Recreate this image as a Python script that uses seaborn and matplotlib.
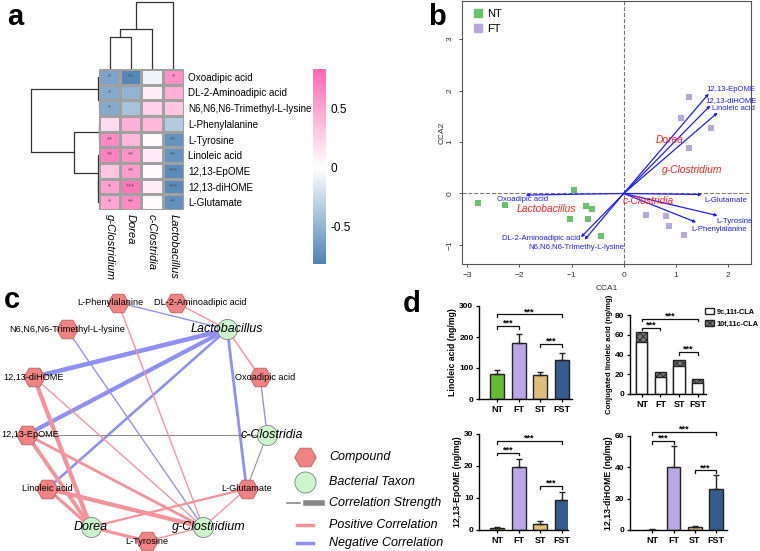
import numpy as np
import pandas as pd
import seaborn as sns
import matplotlib.pyplot as plt
from matplotlib.colors import LinearSegmentedColormap
from matplotlib.patches import Patch
from matplotlib.lines import Line2D

plt.rcParams['font.family'] = ['Liberation Sans', 'DejaVu Sans']
plt.rcParams['hatch.linewidth'] = 0.6

# ---------------- data: panel a (correlation heatmap) ----------------
taxa = ['g-Clostridium', 'Dorea', 'c-Clostridia', 'Lactobacillus']
compounds = ['Oxoadipic acid', 'DL-2-Aminoadipic acid', 'N6,N6,N6-Trimethyl-L-lysine',
             'L-Phenylalanine', 'L-Tyrosine', 'Linoleic acid', '12,13-EpOME',
             '12,13-diHOME', 'L-Glutamate']
corr = [
    [-0.60, -0.78, -0.08, 0.62],
    [-0.56, -0.50, 0.10, 0.45],
    [-0.56, -0.40, 0.25, 0.32],
    [0.20, 0.45, 0.40, -0.35],
    [0.65, 0.40, 0.02, -0.70],
    [0.70, 0.60, 0.12, -0.70],
    [0.32, 0.55, 0.03, -0.76],
    [0.52, 0.75, 0.10, -0.76],
    [0.50, 0.65, 0.03, -0.72],
]
stars = [
    ['*', '**', '', '*'],
    ['*', '', '', ''],
    ['*', '', '', ''],
    ['', '', '', ''],
    ['**', '', '', '**'],
    ['**', '**', '', '**'],
    ['', '**', '', '***'],
    ['*', '***', '', '***'],
    ['*', '**', '', '**'],
]
# linkage: (left, right, height), new nodes numbered after the leaves
col_merges = [(0, 1, 0.48), (4, 2, 0.60), (5, 3, 1.0)]
row_merges = [(1, 2, 0.0), (0, 9, 0.02), (3, 4, 0.0), (6, 7, 0.005),
              (12, 8, 0.01), (5, 13, 0.015), (11, 14, 0.37), (10, 15, 1.0)]

# ---------------- data: panel b (CCA) ----------------
nt_x = [-2.80, -2.27, -0.95, -0.73, -0.60, -1.03, -0.68, -0.44]
nt_y = [-0.18, -0.22, 0.07, -0.25, -0.30, -0.50, -0.50, -0.82]
ft_x = [1.25, 1.10, 1.68, 1.26, 0.43, 0.81, 0.87, 1.15]
ft_y = [1.87, 1.47, 1.28, 0.89, -0.42, -0.43, -0.63, -0.80]
env_names = ['12,13-EpOME', '12,13-diHOME', 'Linoleic acid', 'L-Glutamate', 'L-Tyrosine',
             'L-Phenylalanine', 'Oxoadipic acid', 'DL-2-Aminoadipic acid',
             'N6,N6,N6-Trimethy-L-lysine']
env_x = [1.63, 1.66, 1.80, 1.50, 1.80, 1.39, -1.88, -0.82, -0.75]
env_y = [1.94, 1.71, 1.57, -0.02, -0.43, -0.56, -0.03, -0.85, -0.90]
env_lx = [1.58, 1.57, 1.70, 1.55, 1.78, 1.30, -1.93, -0.84, -0.90]
env_ly = [2.02, 1.80, 1.65, -0.13, -0.54, -0.70, -0.12, -0.88, -1.04]
env_ha = ['left', 'left', 'left', 'left', 'left', 'left', 'center', 'right', 'center']
sp_names = ['Dorea', 'g-Clostridium', 'c-Clostridia', 'Lactobacillus']
sp_x = [0.88, 1.32, 0.48, -1.48]
sp_y = [1.03, 0.45, -0.14, -0.30]

# ---------------- data: panel c (network) ----------------
net_nodes = ['L-Tyrosine', 'g-Clostridium', 'L-Glutamate', 'c-Clostridia', 'Oxoadipic acid',
             'Lactobacillus', 'DL-2-Aminoadipic acid', 'L-Phenylalanine',
             'N6,N6,N6-Trimethyl-L-lysine', '12,13-diHOME', '12,13-EpOME',
             'Linoleic acid', 'Dorea']
net_taxa = {'g-Clostridium', 'c-Clostridia', 'Lactobacillus', 'Dorea'}
# (node, node, signed strength); 0 = grey link
net_edges = [
    ('Lactobacillus', '12,13-diHOME', -1.0),
    ('Lactobacillus', '12,13-EpOME', -0.9),
    ('Lactobacillus', 'Linoleic acid', -0.45),
    ('Lactobacillus', 'L-Glutamate', -0.5),
    ('Lactobacillus', 'L-Phenylalanine', -0.1),
    ('Lactobacillus', 'DL-2-Aminoadipic acid', 0.1),
    ('Lactobacillus', 'Oxoadipic acid', 0.15),
    ('Oxoadipic acid', 'c-Clostridia', -0.1),
    ('c-Clostridia', 'L-Glutamate', 0.0),
    ('12,13-EpOME', 'c-Clostridia', 0.0),
    ('N6,N6,N6-Trimethyl-L-lysine', 'g-Clostridium', -0.1),
    ('L-Phenylalanine', 'g-Clostridium', 0.1),
    ('12,13-diHOME', 'Dorea', 0.9),
    ('12,13-diHOME', 'g-Clostridium', 0.1),
    ('12,13-EpOME', 'Dorea', 0.8),
    ('12,13-EpOME', 'g-Clostridium', 0.5),
    ('Linoleic acid', 'Dorea', 0.6),
    ('Linoleic acid', 'g-Clostridium', 0.9),
    ('Dorea', 'L-Tyrosine', 0.6),
    ('Dorea', 'L-Glutamate', 0.35),
    ('L-Tyrosine', 'g-Clostridium', 0.1),
    ('L-Glutamate', 'g-Clostridium', 0.1),
]

# ---------------- data: panel d (bar charts) ----------------
groups = ['NT', 'FT', 'ST', 'FST']
linoleic = [82, 180, 78, 126]
linoleic_sd = [13, 30, 8, 23]
cla_9c11t = [53, 17, 28, 11]
cla_total = [63, 22.5, 34.5, 15.5]
epome = [0.7, 19.8, 2.0, 9.3]
epome_sd = [0.3, 2.4, 0.7, 2.5]
dihome = [0.3, 40.0, 1.8, 26.0]
dihome_sd = [0.2, 13.5, 0.8, 9.0]
group_colors = ['#5fd11f', '#b79df0', '#f0c46a', '#275a9c']

W, H = 760, 551
fig = plt.figure(figsize=(W / 100, H / 100), dpi=100)


def px_axes(x0, y0, x1, y1):
    return fig.add_axes([x0 / W, 1 - y1 / H, (x1 - x0) / W, (y1 - y0) / H])


def draw_dendro(ax, n, merges, orient):
    pos = {i: (i + 0.5, 0.0) for i in range(n)}
    for k, (a, b, h) in enumerate(merges):
        xa, ha = pos[a]
        xb, hb = pos[b]
        xs, ys = [xa, xa, xb, xb], [ha, h, h, hb]
        if orient == 'top':
            ax.plot(xs, ys, color='#333333', lw=0.9)
        else:
            ax.plot(ys, xs, color='#333333', lw=0.9)
        pos[n + k] = ((xa + xb) / 2, h)
    if orient == 'top':
        ax.set_xlim(0, n)
        ax.set_ylim(0, 1.03)
    else:
        ax.set_ylim(n, 0)
        ax.set_xlim(1.01, 0)
    ax.axis('off')


# ---------------- panel a ----------------
df_corr = pd.DataFrame(corr, index=compounds, columns=taxa)
cmap = LinearSegmentedColormap.from_list('pw', ['#4a80b4', '#ffffff', '#ff69b4'])
ax_hm = px_axes(99, 69, 184, 210)
cax = px_axes(313, 69, 326, 264)
sns.heatmap(df_corr, ax=ax_hm, cbar_ax=cax, cmap=cmap, center=0, vmin=-0.82, vmax=0.84,
            linewidths=0.9, linecolor='#a0a0a0', annot=np.array(stars), fmt='',
            annot_kws={'fontsize': 5.5, 'color': '#555555'})
ax_hm.yaxis.tick_right()
ax_hm.tick_params(length=0, pad=3)
ax_hm.set_yticklabels(compounds, rotation=0, fontsize=7.1)
ax_hm.set_xticklabels(taxa, rotation=270, fontsize=8, style='italic')
ax_hm.set_xlabel('')
ax_hm.set_ylabel('')
cb = ax_hm.collections[0].colorbar
cb.outline.set_visible(False)
cb.set_ticks([-0.5, 0, 0.5])
cb.set_ticklabels(['-0.5', '0', '0.5'])
cb.ax.tick_params(length=0, labelsize=8.5)

ax_cd = px_axes(99, 0, 184, 69)
draw_dendro(ax_cd, len(taxa), col_merges, 'top')
ax_rd = px_axes(30, 69, 99, 210)
draw_dendro(ax_rd, len(compounds), row_merges, 'left')

# ---------------- panel b ----------------
ax_b = px_axes(462, 1, 751, 264)
sns.scatterplot(x=nt_x, y=nt_y, ax=ax_b, marker='s', s=22, color='#6cc26c', linewidth=0, zorder=3)
sns.scatterplot(x=ft_x, y=ft_y, ax=ax_b, marker='s', s=22, color='#b8a8da', linewidth=0, zorder=3)
ax_b.axhline(0, color='#777777', ls='--', lw=0.8, zorder=1)
ax_b.axvline(0, color='#777777', ls='--', lw=0.8, zorder=1)
for name, x, y, lx, ly, ha in zip(env_names, env_x, env_y, env_lx, env_ly, env_ha):
    ax_b.annotate('', xy=(x, y), xytext=(0, 0),
                  arrowprops=dict(arrowstyle='-|>', color='#1f1fff', lw=0.9,
                                  mutation_scale=4, shrinkA=0, shrinkB=0))
    ax_b.text(lx, ly, name, color='#1f1fff', fontsize=5.6, ha=ha, va='center')
for name, x, y in zip(sp_names, sp_x, sp_y):
    ax_b.text(x, y, name, color='#ff2020', fontsize=7.4, style='italic', ha='center', va='center')
ax_b.set_xlim(-3.1, 2.44)
ax_b.set_ylim(-1.37, 3.74)
ax_b.set_xticks([-3, -2, -1, 0, 1, 2])
ax_b.set_yticks([-1, 0, 1, 2, 3])
ax_b.tick_params(labelsize=6, colors='#333333', length=2.5, width=0.6)
for lab in ax_b.get_yticklabels():
    lab.set_rotation(90)
    lab.set_va('center')
for sp in ax_b.spines.values():
    sp.set_color('#555555')
    sp.set_linewidth(0.8)
ax_b.set_xlabel('CCA1', fontsize=6, color='#333333', labelpad=4)
ax_b.set_ylabel('CCA2', fontsize=6, color='#333333', labelpad=1)
b_handles = [Line2D([], [], marker='s', ls='', color='#6cc26c', markersize=6, label='NT'),
             Line2D([], [], marker='s', ls='', color='#b8a8da', markersize=6, label='FT')]
ax_b.legend(handles=b_handles, loc='upper left', frameon=False, fontsize=8,
            handletextpad=0.1, borderaxespad=0.3, labelspacing=0.5, handlelength=1.5)

# ---------------- panel c ----------------
ax_c = px_axes(0, 285, 420, 551)
ax_c.set_xlim(0, 420)
ax_c.set_ylim(551, 285)
ax_c.axis('off')
cx, cy, rad = 147, 420, 121
ang = np.deg2rad(-90 + np.arange(len(net_nodes)) * 360 / len(net_nodes))
node_pos = {n: (cx + rad * np.cos(a), cy - rad * np.sin(a)) for n, a in zip(net_nodes, ang)}
edge_col = {1: '#f4939c', -1: '#9090f2', 0: '#888888'}
for a, b, w in net_edges:
    (x1, y1), (x2, y2) = node_pos[a], node_pos[b]
    ax_c.plot([x1, x2], [y1, y2], color=edge_col[int(np.sign(w))],
              lw=0.7 + 2.6 * abs(w), solid_capstyle='butt', zorder=1)
comp_nodes = [n for n in net_nodes if n not in net_taxa]
taxa_nodes = [n for n in net_nodes if n in net_taxa]
ax_c.scatter([node_pos[n][0] for n in comp_nodes], [node_pos[n][1] for n in comp_nodes],
             marker='H', s=240, color='#f08484', edgecolors='#b86060', linewidths=0.6, zorder=2)
ax_c.scatter([node_pos[n][0] for n in taxa_nodes], [node_pos[n][1] for n in taxa_nodes],
             marker='o', s=210, color='#cdf5cd', edgecolors='#808080', linewidths=0.6, zorder=2)
label_nudge = {'DL-2-Aminoadipic acid': 24, 'L-Phenylalanine': -8, 'c-Clostridia': 5,
               'g-Clostridium': 6, 'Oxoadipic acid': 5, '12,13-EpOME': 3}
for n in net_nodes:
    x, y = node_pos[n]
    x += label_nudge.get(n, 0)
    if n in net_taxa:
        ax_c.text(x, y, n, fontsize=9, style='italic', ha='center', va='center', zorder=3)
    else:
        ax_c.text(x, y, n, fontsize=6.6, ha='center', va='center', zorder=3)
# legend of panel c
ax_c.scatter([305], [457], marker='H', s=240, color='#f08484', edgecolors='#b86060', linewidths=0.6)
ax_c.scatter([305], [482], marker='o', s=230, color='#cdf5cd', edgecolors='#808080', linewidths=0.6)
ax_c.plot([287, 300], [503, 503], color='#888888', lw=1.2)
ax_c.plot([306, 322], [503, 503], color='#888888', lw=4)
ax_c.plot([297, 313], [525, 525], color='#f4939c', lw=2.5)
ax_c.plot([297, 313], [543, 543], color='#9090f2', lw=2.5)
for yy, txt in zip([457, 482, 503, 525, 543],
                   ['Compound', 'Bacterial Taxon', 'Correlation Strength',
                    'Positive Correlation', 'Negative Correlation']):
    ax_c.text(329, yy, txt, fontsize=9, style='italic', ha='left', va='center')

# ---------------- panel d ----------------
def bracket(ax, x1, x2, y, ymax):
    h = ymax * 0.03
    ax.plot([x1, x1, x2, x2], [y - h, y, y, y - h], color='#111111', lw=0.9, clip_on=False)
    ax.text((x1 + x2) / 2, y - ymax * 0.02, '***', ha='center', va='bottom', fontsize=6.5,
            fontweight='bold', clip_on=False)


def style_bar_ax(ax, ymax, yticks, ylabel, ylabsize):
    ax.set_ylim(0, ymax)
    ax.set_yticks(yticks)
    ax.set_xlabel('')
    ax.set_ylabel(ylabel, fontsize=ylabsize, fontweight='bold', labelpad=1.5)
    sns.despine(ax=ax)
    for sp in ['left', 'bottom']:
        ax.spines[sp].set_linewidth(1.0)
    ax.tick_params(length=2.5, width=0.9, labelsize=6, pad=1.5)
    for lab in ax.get_xticklabels() + ax.get_yticklabels():
        lab.set_fontweight('bold')
    ax.tick_params(axis='x', labelsize=6.5)


def bar_panel(ax, vals, sds, ymax, yticks, ylabel, xlim, brackets):
    sns.barplot(x=groups, y=vals, hue=groups, palette=group_colors, ax=ax, width=0.65,
                edgecolor='#222222', linewidth=1.0, legend=False, errorbar=None)
    ax.errorbar(np.arange(len(groups)), vals, yerr=[np.zeros(len(sds)), sds], fmt='none',
                ecolor='#222222', elinewidth=1.0, capsize=2.5, capthick=1.0)
    ax.set_xlim(*xlim)
    style_bar_ax(ax, ymax, yticks, ylabel, 6.3)
    for x1, x2, y in brackets:
        bracket(ax, x1, x2, y, ymax)


ax_d1 = px_axes(479, 306, 572, 399)
bar_panel(ax_d1, linoleic, linoleic_sd, 300, [0, 100, 200, 300], 'Linoleic acid (ng/mg)',
          (-0.83, 3.46), [(0, 3, 273), (0, 1, 236), (2, 3, 177)])

ax_d2 = px_axes(630, 315, 706, 394)
sns.barplot(x=groups, y=cla_total, color='#777777', ax=ax_d2, width=0.6,
            edgecolor='#222222', linewidth=1.0, errorbar=None)
for p in ax_d2.patches:
    p.set_hatch('xxxxx')
sns.barplot(x=groups, y=cla_9c11t, color='white', ax=ax_d2, width=0.6,
            edgecolor='#222222', linewidth=1.0, errorbar=None)
ax_d2.set_xlim(-0.64, 3.45)
style_bar_ax(ax_d2, 80, [0, 20, 40, 60, 80], 'Conjugated linoleic acid (ng/mg)', 5.6)
for x1, x2, y in [(0, 3, 76), (0, 1, 67), (2, 3, 42.4)]:
    bracket(ax_d2, x1, x2, y, 80)
cla_handles = [Patch(facecolor='white', edgecolor='#222222', label='9c,11t-CLA'),
               Patch(facecolor='#777777', edgecolor='#222222', hatch='xxxxx', label='10t,11c-CLA')]
leg = ax_d2.legend(handles=cla_handles, loc='upper left', bbox_to_anchor=(704 / W, 1 - 307 / H),
                   bbox_transform=fig.transFigure, frameon=False, handlelength=1.1,
                   handleheight=0.8, handletextpad=0.4, labelspacing=0.6, borderaxespad=0,
                   borderpad=0.2, prop={'size': 5.3, 'weight': 'bold'})

ax_d3 = px_axes(479, 434, 568, 530)
bar_panel(ax_d3, epome, epome_sd, 30, [0, 10, 20, 30], '12,13-EpOME (ng/mg)',
          (-0.83, 3.28), [(0, 3, 27.9), (0, 1, 24.2), (2, 3, 13.8)])

ax_d4 = px_axes(630, 436, 727, 530)
bar_panel(ax_d4, dihome, dihome_sd, 60, [0, 20, 40, 60], '12,13-diHOME (ng/mg)',
          (-1.05, 3.52), [(0, 3, 62.5), (0, 1, 56.8), (2, 3, 38.1)])

# ---------------- panel letters ----------------
for x, y, letter in [(15, 17, 'a'), (437, 17, 'b'), (12, 300, 'c'), (412, 304, 'd')]:
    fig.text(x / W, 1 - y / H, letter, fontsize=21, fontweight='bold', ha='center', va='center')

fig.savefig('out.png', dpi=100)
plt.close(fig)
